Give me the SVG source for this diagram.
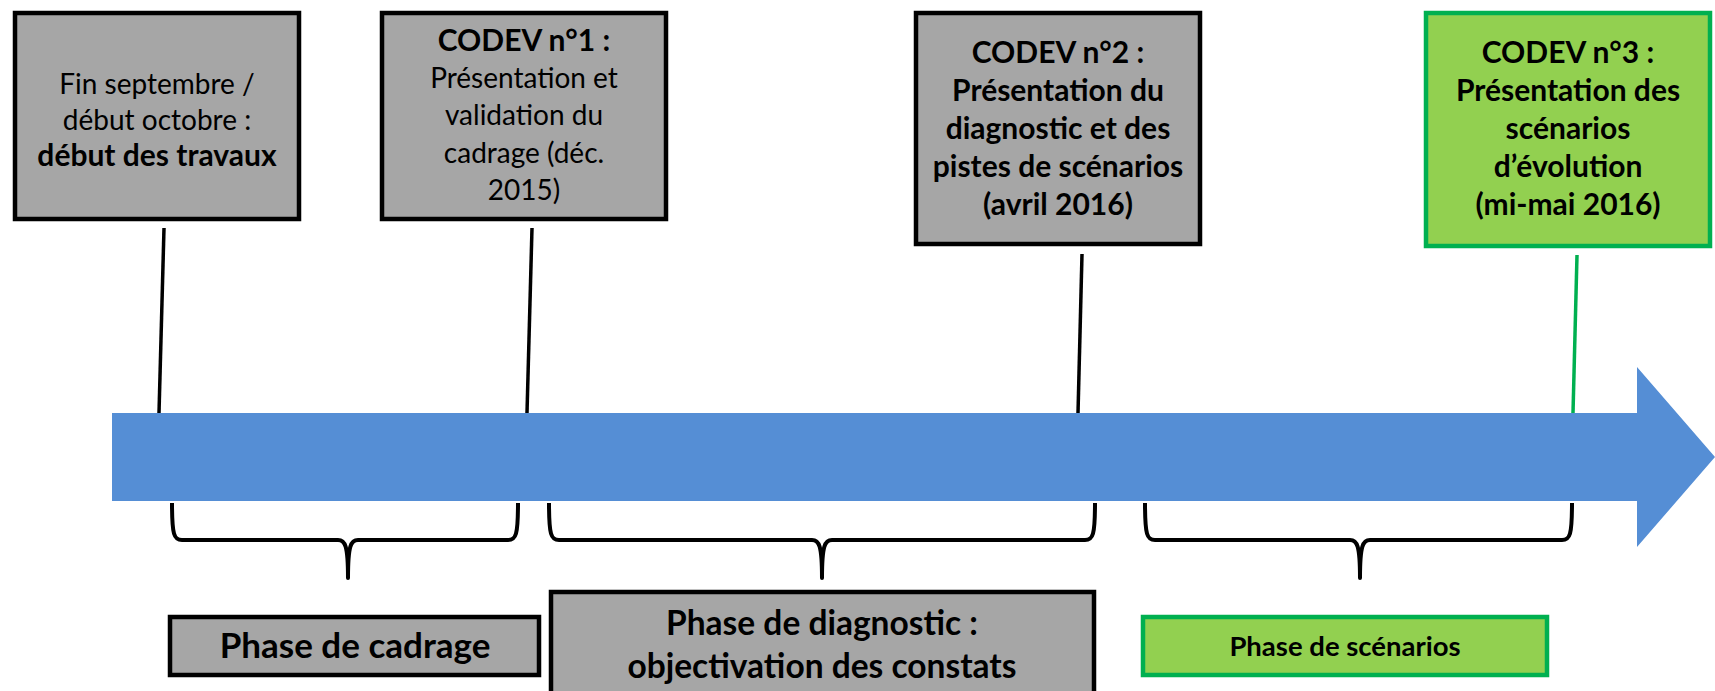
<svg xmlns="http://www.w3.org/2000/svg" width="1715" height="691" viewBox="0 0 1715 691">
<style>
.gray{fill:#a6a6a6;stroke:#000;stroke-width:4.5}
.green{fill:#92d050;stroke:#00b050;stroke-width:4.5}
.t{font-family:Lato,"Liberation Sans",sans-serif;font-size:28px;fill:#000;text-anchor:middle}
.b{font-weight:bold;font-size:30px}
.ln{stroke:#000;stroke-width:3.5;fill:none}
.br{stroke:#000;stroke-width:4;fill:none;stroke-linejoin:round}
</style>
<rect width="1715" height="691" fill="#fff"/>
<g id="arrow"><polygon points="112,413 1637,413 1637,367 1715,457 1637,547 1637,501 112,501" fill="#558ed5"/></g>
<g id="connectors">
<line class="ln" x1="164" y1="228" x2="159" y2="413"/>
<line class="ln" x1="532" y1="228" x2="527" y2="413"/>
<line class="ln" x1="1082" y1="254" x2="1078" y2="413"/>
<line x1="1577" y1="255" x2="1573" y2="413" stroke="#00b050" stroke-width="3.5"/>
<path class="br" d="M172,503 C172,535 174,540 182,540 L338,540 C345,540 348,545 348,578 C348,545 351,540 358,540 L508,540 C516,540 518,535 518,503"/>
<path class="br" d="M549,503 C549,535 551,540 559,540 L812,540 C819,540 822,545 822,578 C822,545 825,540 832,540 L1085,540 C1093,540 1095,535 1095,503"/>
<path class="br" d="M1145,503 C1145,535 1147,540 1155,540 L1350,540 C1357,540 1360,545 1360,578 C1360,545 1363,540 1370,540 L1562,540 C1570,540 1572,535 1572,503"/>
</g>
<g id="n1"><rect class="gray" x="15" y="13" width="284" height="206"/>
<text class="t" x="157" y="94">Fin septembre /</text>
<text class="t" x="157" y="130">début octobre :</text>
<text class="t b" x="157" y="166">début des travaux</text></g>
<g id="n2"><rect class="gray" x="382" y="13" width="284" height="206"/>
<text class="t b" x="524" y="51">CODEV n°1 :</text>
<text class="t" x="524" y="88">Présentation et</text>
<text class="t" x="524" y="125">validation du</text>
<text class="t" x="524" y="163">cadrage (déc.</text>
<text class="t" x="524" y="200">2015)</text></g>
<g id="n3"><rect class="gray" x="916" y="13" width="284" height="231"/>
<text class="t b" x="1058" y="63">CODEV n°2 :</text>
<text class="t b" x="1058" y="101">Présentation du</text>
<text class="t b" x="1058" y="139">diagnostic et des</text>
<text class="t b" x="1058" y="177">pistes de scénarios</text>
<text class="t b" x="1058" y="215">(avril 2016)</text></g>
<g id="n4"><rect class="green" x="1426" y="13" width="284" height="233"/>
<text class="t b" x="1568" y="63">CODEV n°3 :</text>
<text class="t b" x="1568" y="101">Présentation des</text>
<text class="t b" x="1568" y="139">scénarios</text>
<text class="t b" x="1568" y="177">d’évolution</text>
<text class="t b" x="1568" y="215">(mi-mai 2016)</text></g>
<g id="p1"><rect class="gray" x="170" y="617" width="369" height="58"/>
<text class="t b" x="355" y="658" style="font-size:35px">Phase de cadrage</text></g>
<g id="p2"><rect class="gray" x="551" y="592" width="543" height="110"/>
<text class="t b" x="822" y="635" style="font-size:33.5px">Phase de diagnostic :</text>
<text class="t b" x="822" y="678" style="font-size:33.5px">objectivation des constats</text></g>
<g id="p3"><rect class="green" x="1143" y="617" width="404" height="58"/>
<text class="t b" x="1345" y="656" style="font-size:27.5px">Phase de scénarios</text></g>
</svg>
